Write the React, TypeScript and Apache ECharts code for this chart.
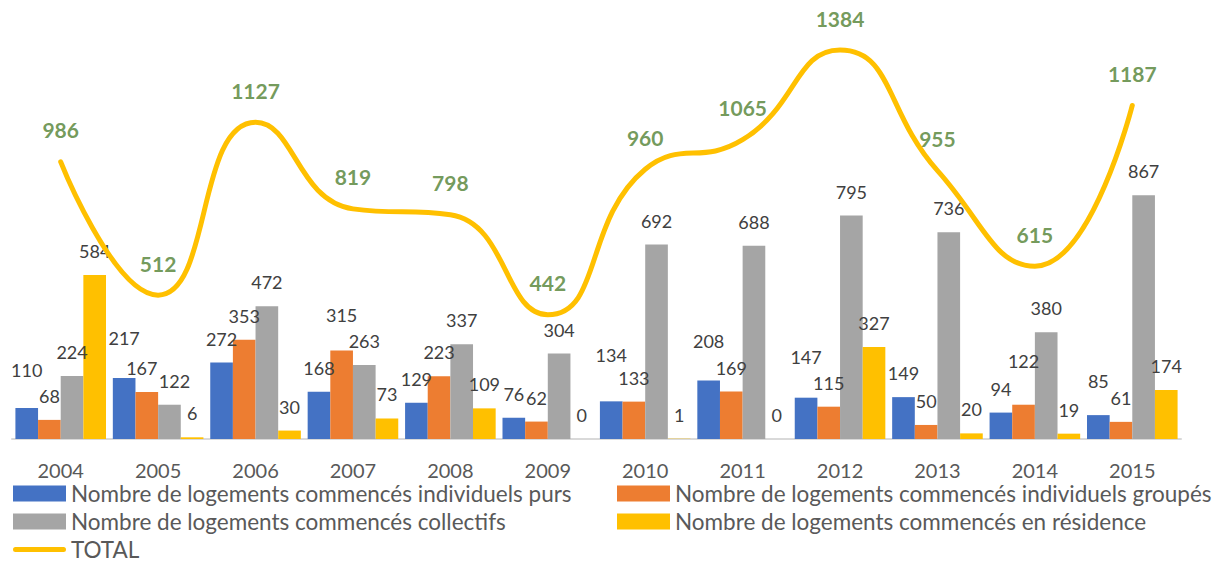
import React, { useEffect, useRef } from "react";
import * as echarts from "echarts";

const years = ["2004", "2005", "2006", "2007", "2008", "2009", "2010", "2011", "2012", "2013", "2014", "2015"];
const individuelsPurs = [110, 217, 272, 168, 129, 76, 134, 208, 147, 149, 94, 85];
const individuelsGroupes = [68, 167, 353, 315, 223, 62, 133, 169, 115, 50, 122, 61];
const collectifs = [224, 122, 472, 263, 337, 304, 692, 688, 795, 736, 380, 867];
const residence = [584, 6, 30, 73, 109, 0, 1, 0, 327, 20, 19, 174];
const total = [986, 512, 1127, 819, 798, 442, 960, 1065, 1384, 955, 615, 1187];

const names = [
  "Nombre de logements commencés individuels purs",
  "Nombre de logements commencés individuels groupés",
  "Nombre de logements commencés collectifs",
  "Nombre de logements commencés en résidence",
  "TOTAL",
];

// label nudges (px) where the original labels were moved to avoid overlaps
const liftPurs = [14, 16, 0, 0, 0, 0, 22, 16, 17, 0, 0, 10];
const liftGroupes = [0, 0, 0, 11, 0, 0, 0, 0, 0, 0, 20, 0];
const shiftGroupes = [0, -5, 0, 0, 0, 0, 0, 0, 0, 0, 0, 0];
const shiftCollectifs = [0, 5, 0, 0, 0, 0, 0, 0, 0, 0, 0, 0];
const none = [0, 0, 0, 0, 0, 0, 0, 0, 0, 0, 0, 0];

const FONT = "Lato";

export default function App() {
  const ref = useRef<HTMLDivElement>(null);
  useEffect(() => {
    if (!ref.current) return;
    const chart = echarts.init(ref.current, undefined, { renderer: "svg" });
    const barLabel = {
      show: true,
      position: "top",
      distance: 15,
      color: "#404040",
      fontSize: 18,
      fontFamily: FONT,
    };
    const withNudge = (vals: number[], lift: number[], shift: number[]) =>
      vals.map((v, i) => ({
        value: v,
        label: { ...barLabel, offset: [shift[i], -lift[i]] },
      }));
    const bar = (name: string, color: string, data: any[]) => ({
      name,
      type: "bar",
      data,
      barGap: "0%",
      barCategoryGap: "7%",
      itemStyle: { color },
      label: barLabel,
    });
    const legendText = {
      color: "#595959",
      fontSize: 22.5,
      lineHeight: 22,
      fontFamily: FONT,
    };
    const legendCommon = {
      top: 482,
      padding: 0,
      orient: "vertical",
      itemWidth: 53,
      itemHeight: 16,
      itemGap: 5,
      textStyle: legendText,
    };
    chart.setOption({
      animation: false,
      textStyle: { fontFamily: FONT },
      grid: { left: 12, right: 38, top: 17.5, bottom: 124, containLabel: false },
      xAxis: {
        type: "category",
        data: years,
        axisLine: { lineStyle: { color: "#D9D9D9", width: 2 } },
        axisTick: { show: false },
        axisLabel: { color: "#595959", fontSize: 20, fontFamily: FONT, margin: 21 },
      },
      yAxis: {
        type: "value",
        min: 0,
        max: 1500,
        show: false,
        splitLine: { show: false },
      },
      legend: [
        {
          ...legendCommon,
          left: 13,
          data: [
            { name: names[0], icon: "rect" },
            { name: names[2], icon: "rect" },
            {
              name: names[4],
              icon: "path://M2.5,0 L50.5,0 A2.5,2.5 0 0 1 50.5,5 L2.5,5 A2.5,2.5 0 0 1 2.5,0 Z",
            },
          ],
        },
        {
          ...legendCommon,
          left: 617,
          data: [
            { name: names[1], icon: "rect" },
            { name: names[3], icon: "rect" },
          ],
        },
      ],
      series: [
        bar(names[0], "#4472C4", withNudge(individuelsPurs, liftPurs, none)),
        bar(names[1], "#ED7D31", withNudge(individuelsGroupes, liftGroupes, shiftGroupes)),
        bar(names[2], "#A5A5A5", withNudge(collectifs, none, shiftCollectifs)),
        bar(names[3], "#FFC000", residence),
        {
          name: names[4],
          type: "line",
          data: total,
          smooth: 0.5,
          symbol: "none",
          lineStyle: { color: "#FFC000", width: 5, cap: "round" },
          itemStyle: { color: "#FFC000" },
          z: 5,
        },
        {
          name: "TOTAL labels",
          type: "scatter",
          data: total,
          symbolSize: 1,
          itemStyle: { color: "rgba(0,0,0,0)" },
          silent: true,
          label: {
            show: true,
            position: "top",
            distance: 21,
            color: "#4F7F30",
            fontSize: 21,
            fontWeight: "bold",
            fontFamily: FONT,
          },
          z: 6,
        },
      ],
    });
    return () => chart.dispose();
  }, []);
  return (
    <div
      ref={ref}
      style={{ position: "fixed", left: 0, top: 0, width: 1219, height: 563, background: "#fff" }}
    />
  );
}
